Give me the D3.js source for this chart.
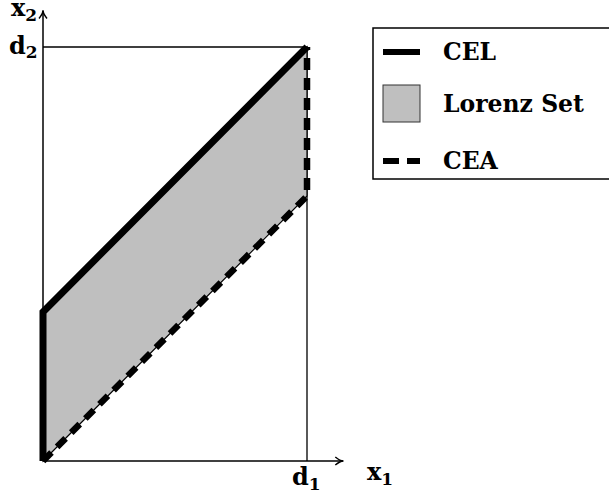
<!DOCTYPE html>
<html>
<head>
<meta charset="utf-8">
<script src="https://cdn.jsdelivr.net/npm/d3@7"></script>
<style>
  body { margin: 0; background: #fff; }
  text { font-family: "DejaVu Serif", serif; font-weight: bold; fill: #000; }
</style>
</head>
<body>
<script>
// claims d1, d2 (estate split between two claimants)
const claimValues = [4, 6.25];
const claimLabels = ['d', 'd'];
const claimSubs = ['1', '2'];

// CEL rule path (x1, x2)
const celX = [0, 0, 4];
const celY = [0, 2.25, 6.25];

// CEA rule path
const ceaX = [0, 4, 4];
const ceaY = [0, 4, 6.25];

// Lorenz set region
const lorenzX = [0, 0, 4, 4];
const lorenzY = [0, 2.25, 6.25, 4];

const legendNames = ['CEL', 'Lorenz Set', 'CEA'];
const legendKinds = ['solid', 'area', 'dash'];

const width = 609;
const height = 493;

const svg = d3
  .select('body')
  .append('svg')
  .attr('width', width)
  .attr('height', height);

// same scale both ways, origin at (43, 461)
const x = d3.scaleLinear().domain([0, 4]).range([43, 307]);
const y = d3.scaleLinear().domain([0, 6.25]).range([461, 47]);

const line = d3
  .line()
  .x((d) => x(d[0]))
  .y((d) => y(d[1]));

const zip = (xs, ys) => xs.map((v, i) => [v, ys[i]]);

// guide lines to the claims
svg
  .append('path')
  .attr('d', line([[0, claimValues[1]], [claimValues[0], claimValues[1]], [claimValues[0], 0]]))
  .attr('fill', 'none')
  .attr('stroke', '#000')
  .attr('stroke-width', 1.3);

// axes with arrows
const xEnd = 4.55;
const yEnd = 6.8;
svg
  .append('line')
  .attr('x1', x(0)).attr('y1', y(0))
  .attr('x2', x(xEnd)).attr('y2', y(0))
  .attr('stroke', '#000').attr('stroke-width', 1.5);
svg
  .append('line')
  .attr('x1', x(0)).attr('y1', y(0))
  .attr('x2', x(0)).attr('y2', y(yEnd))
  .attr('stroke', '#000').attr('stroke-width', 1.5);

const ax = x(xEnd), ay = y(0);
svg
  .append('path')
  .attr('d', `M${ax - 8},${ay - 4} Q${ax - 3},${ay} ${ax},${ay} Q${ax - 3},${ay} ${ax - 8},${ay + 4}`)
  .attr('fill', 'none').attr('stroke', '#000').attr('stroke-width', 1.5);
const bx = x(0), by = y(yEnd);
svg
  .append('path')
  .attr('d', `M${bx - 4},${by + 8} Q${bx},${by + 3} ${bx},${by} Q${bx},${by + 3} ${bx + 4},${by + 8}`)
  .attr('fill', 'none').attr('stroke', '#000').attr('stroke-width', 1.5);

// Lorenz region
svg
  .append('path')
  .attr('d', line(zip(lorenzX, lorenzY)) + 'Z')
  .attr('fill', '#bfbfbf')
  .attr('stroke', '#000')
  .attr('stroke-width', 1.2);

// CEA dashed
svg
  .append('path')
  .attr('d', line(zip(ceaX, ceaY)))
  .attr('fill', 'none')
  .attr('stroke', '#000')
  .attr('stroke-width', 6.5)
  .attr('stroke-dasharray', '12,8');

// CEL solid
svg
  .append('path')
  .attr('d', line(zip(celX, celY)))
  .attr('fill', 'none')
  .attr('stroke', '#000')
  .attr('stroke-width', 7);

// labels with subscripts
function subLabel(px, py, main, sub, drop) {
  const t = svg.append('text').attr('x', px).attr('y', py).style('font-size', '24px');
  t.append('tspan').text(main);
  t.append('tspan').attr('dy', drop).style('font-size', '17px').text(sub);
}

subLabel(x(claimValues[0]) - 15, 485, claimLabels[0], claimSubs[0], 5);
subLabel(9, y(claimValues[1]) + 7, claimLabels[1], claimSubs[1], 4);
subLabel(367, 480, 'x', '1', 5);
subLabel(11, 16, 'x', '2', 5);

// legend
const legend = svg.append('g');
legend
  .append('rect')
  .attr('x', 373).attr('y', 28)
  .attr('width', 260).attr('height', 151)
  .attr('fill', '#fff')
  .attr('stroke', '#000')
  .attr('stroke-width', 1.5);

const rowY = [52, 104, 161];
legendNames.forEach((name, i) => {
  const cy = rowY[i];
  if (legendKinds[i] === 'solid') {
    legend.append('line')
      .attr('x1', 383).attr('x2', 420).attr('y1', cy).attr('y2', cy)
      .attr('stroke', '#000').attr('stroke-width', 6);
  } else if (legendKinds[i] === 'dash') {
    legend.append('line')
      .attr('x1', 383).attr('x2', 420).attr('y1', cy).attr('y2', cy)
      .attr('stroke', '#000').attr('stroke-width', 6)
      .attr('stroke-dasharray', '16,8');
  } else {
    legend.append('rect')
      .attr('x', 383).attr('y', cy - 19).attr('width', 37).attr('height', 37)
      .attr('fill', '#bfbfbf').attr('stroke', '#333').attr('stroke-width', 1);
  }
  legend.append('text')
    .attr('x', 443).attr('y', cy + 8)
    .style('font-size', '23.5px')
    .text(name);
});
</script>
</body>
</html>
